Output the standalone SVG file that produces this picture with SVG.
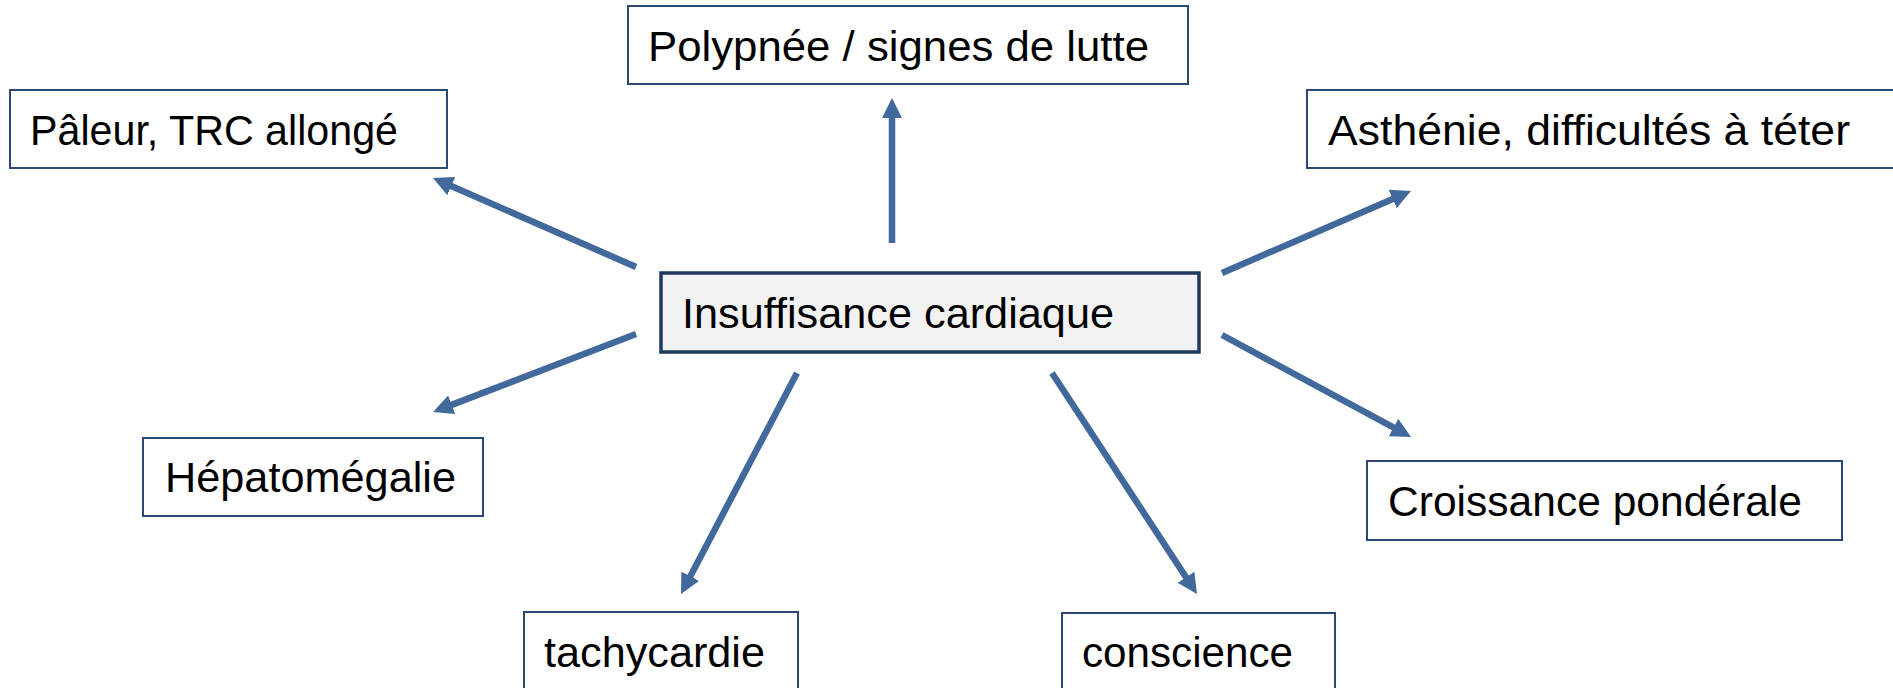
<svg xmlns="http://www.w3.org/2000/svg" width="1893" height="688" viewBox="0 0 1893 688">
<style>
.box{fill:#ffffff;stroke:#2a4a74;stroke-width:2}
.main{fill:#f2f2f2;stroke:#1f3a5f;stroke-width:3.5}
.lbl{font-family:"Liberation Sans",Arial,sans-serif;font-size:43px;fill:#000000}
.arr{stroke:#41699b;stroke-width:6.5;fill:none;marker-end:url(#ah)}
</style>
<defs>
<marker id="ah" markerUnits="userSpaceOnUse" markerWidth="20" markerHeight="20" refX="12" refY="10" orient="auto">
<path d="M0,0 L20,10 L0,20 z" fill="#41699b"/>
</marker>
</defs>
<rect width="1893" height="688" fill="#ffffff"/>
<g id="connectors">
<line class="arr" x1="892" y1="243" x2="892" y2="106"/>
<line class="arr" x1="636" y1="267" x2="440.3" y2="181.2"/>
<line class="arr" x1="1222" y1="273" x2="1403.7" y2="194.2"/>
<line class="arr" x1="1222" y1="335" x2="1404" y2="433.2"/>
<line class="arr" x1="636" y1="334" x2="440.5" y2="409.1"/>
<line class="arr" x1="797" y1="373" x2="684.7" y2="586.9"/>
<line class="arr" x1="1052" y1="373" x2="1192.6" y2="587.3"/>
</g>
<g id="node-polypnee">
<rect class="box" x="628" y="6" width="560" height="78"/>
<text class="lbl" x="648" y="61" textLength="501" lengthAdjust="spacingAndGlyphs">Polypnée / signes de lutte</text>
</g>
<g id="node-paleur">
<rect class="box" x="10" y="90" width="437" height="78"/>
<text class="lbl" x="30" y="145" textLength="368" lengthAdjust="spacingAndGlyphs">Pâleur, TRC allongé</text>
</g>
<g id="node-asthenie">
<rect class="box" x="1307" y="90" width="600" height="78"/>
<text class="lbl" x="1328" y="145" textLength="522" lengthAdjust="spacingAndGlyphs">Asthénie, difficultés à téter</text>
</g>
<g id="node-center">
<rect class="main" x="661" y="273" width="538" height="79"/>
<text class="lbl" x="682" y="328" textLength="432" lengthAdjust="spacingAndGlyphs">Insuffisance cardiaque</text>
</g>
<g id="node-hepato">
<rect class="box" x="143" y="438" width="340" height="78"/>
<text class="lbl" x="165" y="492" textLength="291" lengthAdjust="spacingAndGlyphs">Hépatomégalie</text>
</g>
<g id="node-croissance">
<rect class="box" x="1367" y="461" width="475" height="79"/>
<text class="lbl" x="1388" y="516" textLength="414" lengthAdjust="spacingAndGlyphs">Croissance pondérale</text>
</g>
<g id="node-tachy">
<rect class="box" x="524" y="612" width="274" height="90"/>
<text class="lbl" x="544" y="667" textLength="221" lengthAdjust="spacingAndGlyphs">tachycardie</text>
</g>
<g id="node-conscience">
<rect class="box" x="1062" y="613" width="273" height="90"/>
<text class="lbl" x="1082" y="667" textLength="211" lengthAdjust="spacingAndGlyphs">conscience</text>
</g>
</svg>
